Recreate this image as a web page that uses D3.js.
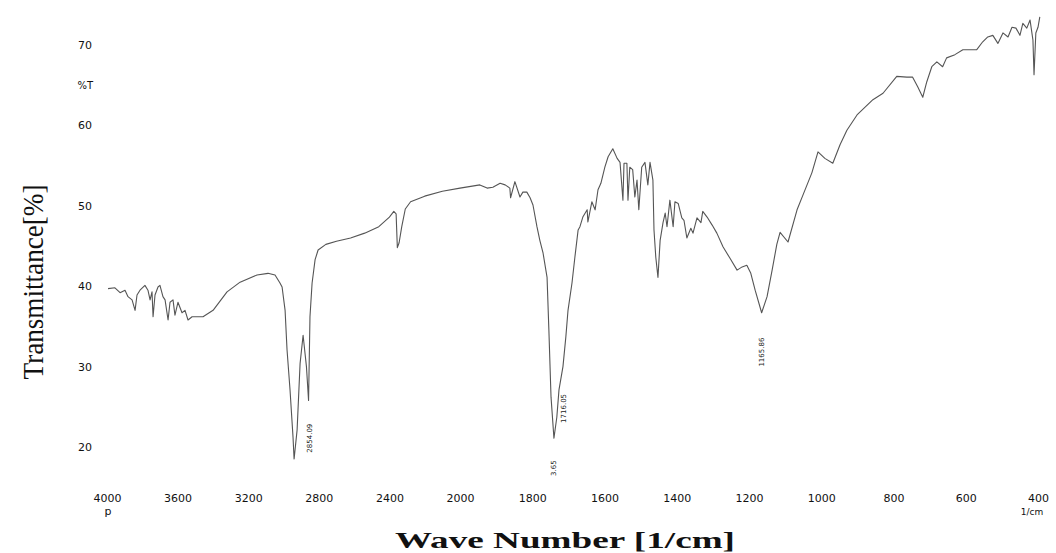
<!DOCTYPE html>
<html>
<head>
<meta charset="utf-8">
<script src="https://cdn.jsdelivr.net/npm/d3@7"></script>
<style>
  body { margin: 0; background: #fff; }
  svg { display: block; }
</style>
</head>
<body>
<div id="chart"></div>
<script>
// IR spectrum, values
const wavenumber = [
  3994, 3955, 3926, 3898, 3881, 3858, 3841, 3830, 3813, 3785, 3768, 3756, 3745, 3739, 3728, 3711,
  3700, 3683, 3671, 3654, 3643, 3626, 3615, 3598, 3575, 3558, 3541, 3518, 3456, 3399, 3320, 3246,
  3150, 3088, 3048, 3020, 3008, 2991, 2980, 2963, 2946, 2940, 2923, 2906, 2889, 2870, 2858, 2850,
  2838, 2821, 2804, 2760, 2700, 2620, 2540, 2460, 2400, 2375, 2362, 2355, 2345, 2330, 2310, 2280,
  2200, 2100, 2000, 1945, 1925, 1909, 1889, 1875, 1862, 1860, 1848, 1834, 1826, 1815, 1806, 1798,
  1787, 1779, 1770, 1759, 1754, 1748, 1740, 1732, 1726, 1715, 1707, 1701, 1690, 1682, 1673, 1668,
  1660, 1648, 1646, 1635, 1626, 1618, 1610, 1599, 1590, 1577, 1565, 1557, 1549, 1546, 1538, 1535,
  1530, 1522, 1516, 1510, 1505, 1497, 1488, 1480, 1474, 1466, 1463, 1458, 1452, 1446, 1438, 1432,
  1427, 1419, 1410, 1405, 1396, 1386, 1380, 1372, 1361, 1355, 1344, 1333, 1328, 1316, 1302, 1289,
  1272, 1253, 1233, 1219, 1206, 1195, 1183, 1165, 1150, 1136, 1123, 1114, 1092, 1067, 1051, 1026,
  1009, 990, 968, 948, 929, 901, 857, 829, 791, 763, 747, 733, 719, 708, 694, 680,
  664, 653, 630, 608, 583, 570, 553, 539, 525, 511, 497, 483, 472, 461, 450, 442,
  431, 422, 414, 411, 406, 400, 395
];
const transmittance = [
  39.7, 39.8, 39.2, 39.5, 38.7, 38.3, 37.0, 38.9, 39.5, 40.1, 39.5, 38.3, 39.3, 36.2, 38.9, 39.9,
  40.1, 38.7, 38.3, 35.8, 38.0, 38.3, 36.4, 38.0, 36.7, 37.0, 35.8, 36.2, 36.2, 37.0, 39.3, 40.5,
  41.4, 41.6, 41.4, 40.4, 39.9, 37.0, 32.1, 27.1, 21.2, 18.5, 22.1, 30.4, 33.9, 30.0, 25.8, 36.2,
  40.4, 43.3, 44.5, 45.2, 45.6, 46.0, 46.6, 47.4, 48.6, 49.3, 49.0, 44.8, 45.4, 47.4, 49.6, 50.5,
  51.2, 51.8, 52.2, 52.6, 52.2, 52.3, 52.8, 52.6, 52.2, 51.0, 53.0, 51.1, 51.7, 51.7, 51.0, 50.1,
  47.4, 45.7, 44.1, 41.1, 34.6, 26.2, 21.1, 23.7, 27.1, 30.0, 33.7, 37.0, 40.4, 43.6, 47.0, 47.4,
  48.6, 49.5, 48.0, 50.5, 49.5, 52.0, 52.8, 54.8, 56.1, 57.1, 55.9, 55.4, 50.7, 55.3, 55.3, 50.7,
  54.8, 54.5, 51.1, 53.2, 49.5, 54.8, 55.4, 52.6, 55.4, 53.2, 47.0, 43.6, 41.1, 45.7, 47.9, 49.1,
  47.4, 50.7, 47.4, 50.5, 50.3, 48.5, 48.2, 46.0, 47.2, 46.6, 48.5, 47.9, 49.3, 48.6, 47.6, 46.6,
  44.9, 43.5, 42.0, 42.4, 42.6, 41.6, 39.5, 36.7, 38.7, 42.0, 45.2, 46.7, 45.5, 49.5, 51.3, 54.1,
  56.7, 55.9, 55.3, 57.6, 59.4, 61.3, 63.2, 64.0, 66.1, 66.0, 66.0, 64.8, 63.5, 65.4, 67.3, 67.9,
  67.3, 68.4, 68.8, 69.4, 69.4, 69.4, 70.4, 71.0, 71.2, 70.2, 71.5, 71.0, 72.2, 72.1, 71.2, 72.7,
  72.1, 73.1, 70.6, 66.3, 71.5, 72.2, 73.5
];

const xTicks = [4000, 3600, 3200, 2800, 2400, 2000, 1800, 1600, 1400, 1200, 1000, 800, 600, 400];
const yTicks = [20, 30, 40, 50, 60, 70];

// peak annotations: wavenumber, printed text, level (%T) where the text starts
const peakWave = [2854.09, 1743.65, 1716.05, 1165.86];
const peakText = ['2854.09', '3.65', '1716.05', '1165.86'];
const peakBase = [19.3, 16.4, 23.0, 30.0];

const dataset = wavenumber.map((w, i) => ({ w, t: transmittance[i] }));

const width = 1056;
const height = 553;

const svg = d3.select('#chart')
  .append('svg')
  .attr('width', width)
  .attr('height', height)
  .style('background', '#fff');

// the instrument doubles the scale below 2000 1/cm
const xScale = d3.scaleLinear()
  .domain([4000, 2000, 400])
  .range([107, 460, 1038]);

const yScale = d3.scaleLinear()
  .domain([20, 70])
  .range([447, 45]);

// axes: labels only, no lines
const xAxis = d3.axisBottom(xScale)
  .tickValues(xTicks)
  .tickSize(0)
  .tickPadding(6)
  .tickFormat(d3.format('d'));

const yAxis = d3.axisLeft(yScale)
  .tickValues(yTicks)
  .tickSize(0)
  .tickPadding(8);

const xAxisGroup = svg.append('g')
  .attr('transform', 'translate(0, 488)')
  .call(xAxis);

const yAxisGroup = svg.append('g')
  .attr('transform', 'translate(100, 0)')
  .call(yAxis);

[xAxisGroup, yAxisGroup].forEach((g) => {
  g.select('.domain').remove();
  g.selectAll('text')
    .attr('fill', '#111')
    .style('font-family', 'DejaVu Sans, sans-serif')
    .style('font-size', '11px');
});

// small unit marks printed by the instrument
svg.append('text')
  .attr('x', 93)
  .attr('y', yScale(65) + 4)
  .attr('text-anchor', 'end')
  .attr('fill', '#111')
  .style('font-family', 'DejaVu Sans, sans-serif')
  .style('font-size', '10px')
  .text('%T');

svg.append('text')
  .attr('x', xScale(4000) + 1)
  .attr('y', 515)
  .attr('text-anchor', 'middle')
  .attr('fill', '#111')
  .style('font-family', 'DejaVu Sans, sans-serif')
  .style('font-size', '11px')
  .text('p');

svg.append('text')
  .attr('x', xScale(400) - 6)
  .attr('y', 515)
  .attr('text-anchor', 'middle')
  .attr('fill', '#111')
  .style('font-family', 'DejaVu Sans, sans-serif')
  .style('font-size', '9px')
  .text('1/cm');

// spectrum
const line = d3.line()
  .x((d) => xScale(d.w))
  .y((d) => yScale(d.t));

svg.append('path')
  .datum(dataset)
  .attr('d', line)
  .attr('fill', 'none')
  .attr('stroke', '#555')
  .attr('stroke-width', 1.1)
  .attr('stroke-linejoin', 'round');

// peak labels, printed sideways
svg.selectAll('.peak')
  .data(peakWave)
  .join('text')
  .attr('class', 'peak')
  .attr('transform', (d, i) => `translate(${xScale(d) + 3}, ${yScale(peakBase[i])}) rotate(-90)`)
  .attr('fill', '#222')
  .style('font-family', 'DejaVu Sans, sans-serif')
  .style('font-size', '7px')
  .text((d, i) => peakText[i]);

// axis titles
svg.append('text')
  .attr('transform', 'translate(43, 282) rotate(-90)')
  .attr('text-anchor', 'middle')
  .attr('textLength', 195)
  .attr('lengthAdjust', 'spacingAndGlyphs')
  .attr('fill', '#111')
  .style('font-family', 'Liberation Serif, serif')
  .style('font-size', '30px')
  .text('Transmittance[%]');

svg.append('text')
  .attr('x', 565)
  .attr('y', 548)
  .attr('text-anchor', 'middle')
  .attr('textLength', 340)
  .attr('lengthAdjust', 'spacingAndGlyphs')
  .attr('fill', '#111')
  .style('font-family', 'Liberation Serif, serif')
  .style('font-weight', 'bold')
  .style('font-size', '23px')
  .text('Wave Number [1/cm]');
</script>
</body>
</html>
